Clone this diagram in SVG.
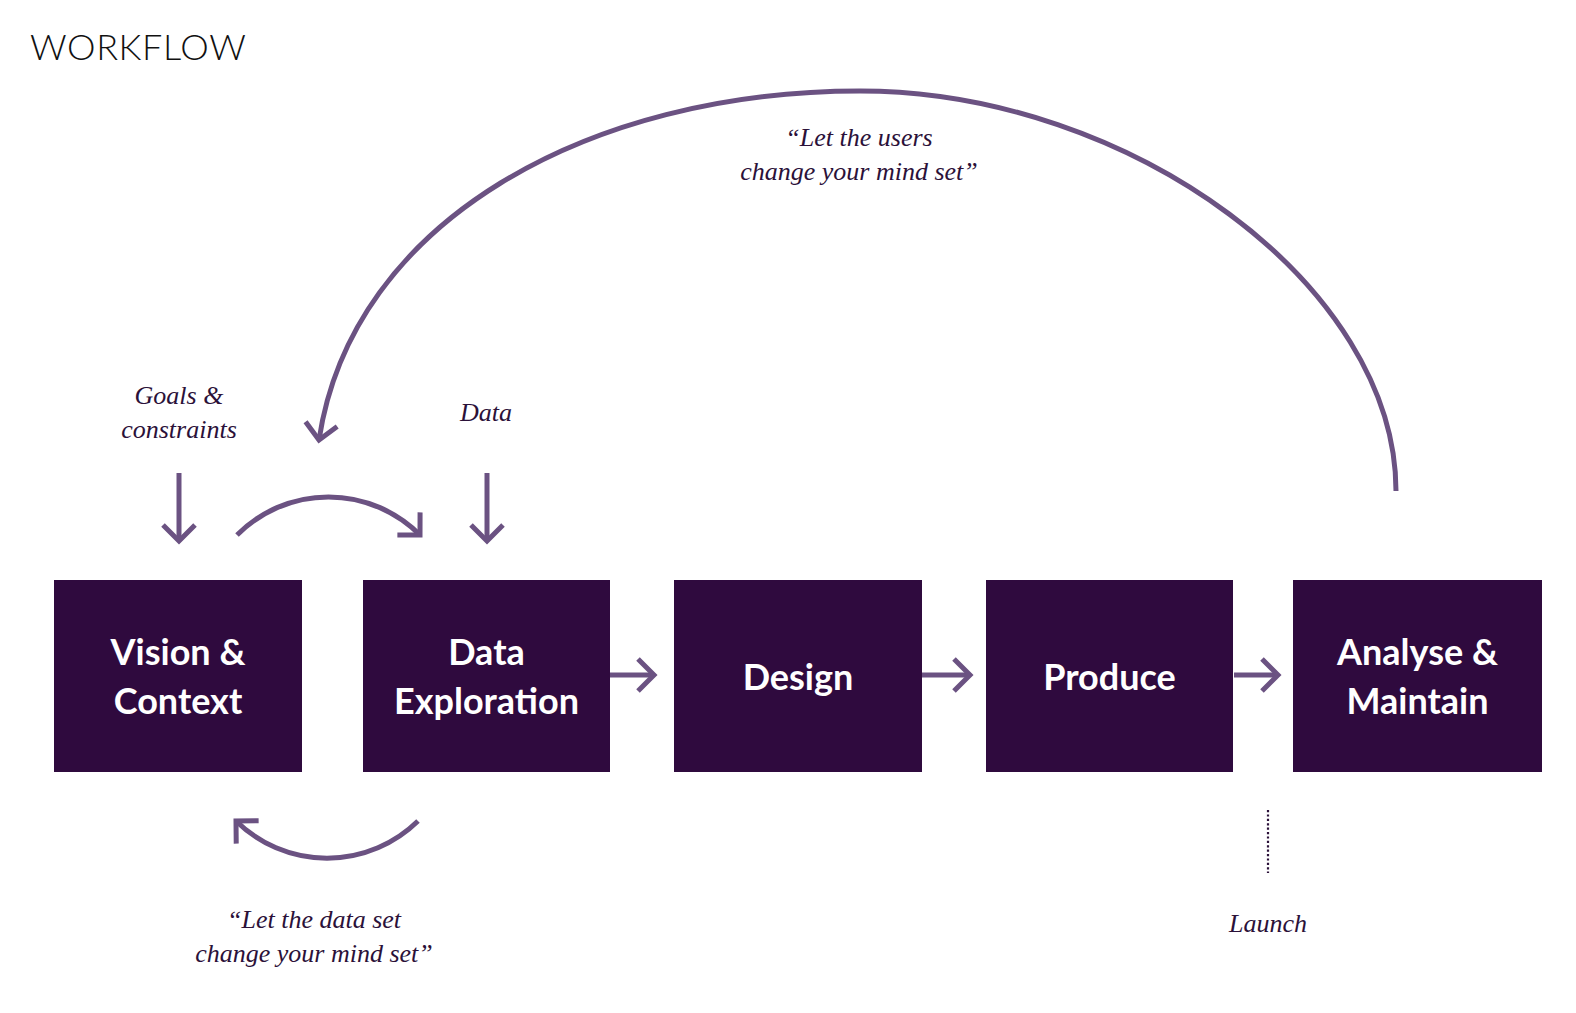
<svg xmlns="http://www.w3.org/2000/svg" width="1576" height="1013" viewBox="0 0 1576 1013">
<style>
.box{fill:#2f0a3e}
.bt{font-family:Lato,"Open Sans",sans-serif;font-weight:700;font-size:36px;fill:#ffffff;text-anchor:middle}
.lbl{font-family:"Liberation Serif",serif;font-style:italic;font-size:26px;fill:#2b1139;text-anchor:middle}
.con{fill:none;stroke:#6b5282;stroke-width:5}
.title{font-family:Lato,"Open Sans",sans-serif;font-weight:300;font-size:36px;fill:#111111;letter-spacing:0.6px}
</style>
<defs>
<marker id="ah" markerUnits="userSpaceOnUse" viewBox="-25 -25 50 50" markerWidth="50" markerHeight="50" refX="0" refY="0" orient="auto" overflow="visible">
<path d="M -16 -16 L 0 0 L -16 16" fill="none" stroke="#6b5282" stroke-width="5"/>
</marker>
</defs>
<rect width="1576" height="1013" fill="#ffffff"/>
<text class="title" x="30" y="60">WORKFLOW</text>
<g id="connectors">
<path class="con" d="M 1396 491 C 1396 286 1130 91 860 91 C 590 91 352 220 319 440" marker-end="url(#ah)"/>
<path class="con" d="M 237 535 A 129 129 0 0 1 420 535" marker-end="url(#ah)"/>
<path class="con" d="M 418 821 A 130 130 0 0 1 236 821" marker-end="url(#ah)"/>
<path class="con" d="M 179 473 L 179 541" marker-end="url(#ah)"/>
<path class="con" d="M 487 473 L 487 541" marker-end="url(#ah)"/>
<path class="con" d="M 610 675 L 654 675" marker-end="url(#ah)"/>
<path class="con" d="M 922 675 L 970 675" marker-end="url(#ah)"/>
<path class="con" d="M 1234 675 L 1278 675" marker-end="url(#ah)"/>
<path d="M 1268 810 L 1268 873" fill="none" stroke="#2b1139" stroke-width="2.2" stroke-dasharray="2.2 2.2"/>
</g>
<g id="node-vision">
<rect class="box" x="54" y="580" width="248" height="192"/>
<text class="bt" x="178" y="665">Vision &amp;</text>
<text class="bt" x="178" y="714">Context</text>
</g>
<g id="node-data">
<rect class="box" x="363" y="580" width="247" height="192"/>
<text class="bt" x="486.5" y="665">Data</text>
<text class="bt" x="486.5" y="714">Exploration</text>
</g>
<g id="node-design">
<rect class="box" x="674" y="580" width="248" height="192"/>
<text class="bt" x="798" y="690">Design</text>
</g>
<g id="node-produce">
<rect class="box" x="986" y="580" width="247" height="192"/>
<text class="bt" x="1109.5" y="690">Produce</text>
</g>
<g id="node-analyse">
<rect class="box" x="1293" y="580" width="249" height="192"/>
<text class="bt" x="1417.5" y="665">Analyse &amp;</text>
<text class="bt" x="1417.5" y="714">Maintain</text>
</g>
<g id="labels">
<text class="lbl" x="179" y="404">Goals &amp;</text>
<text class="lbl" x="179" y="438">constraints</text>
<text class="lbl" x="486" y="421">Data</text>
<text class="lbl" x="859" y="146">“Let the users</text>
<text class="lbl" x="859" y="180">change your mind set”</text>
<text class="lbl" x="314" y="928">“Let the data set</text>
<text class="lbl" x="314" y="962">change your mind set”</text>
<text class="lbl" x="1268" y="932">Launch</text>
</g>
</svg>
